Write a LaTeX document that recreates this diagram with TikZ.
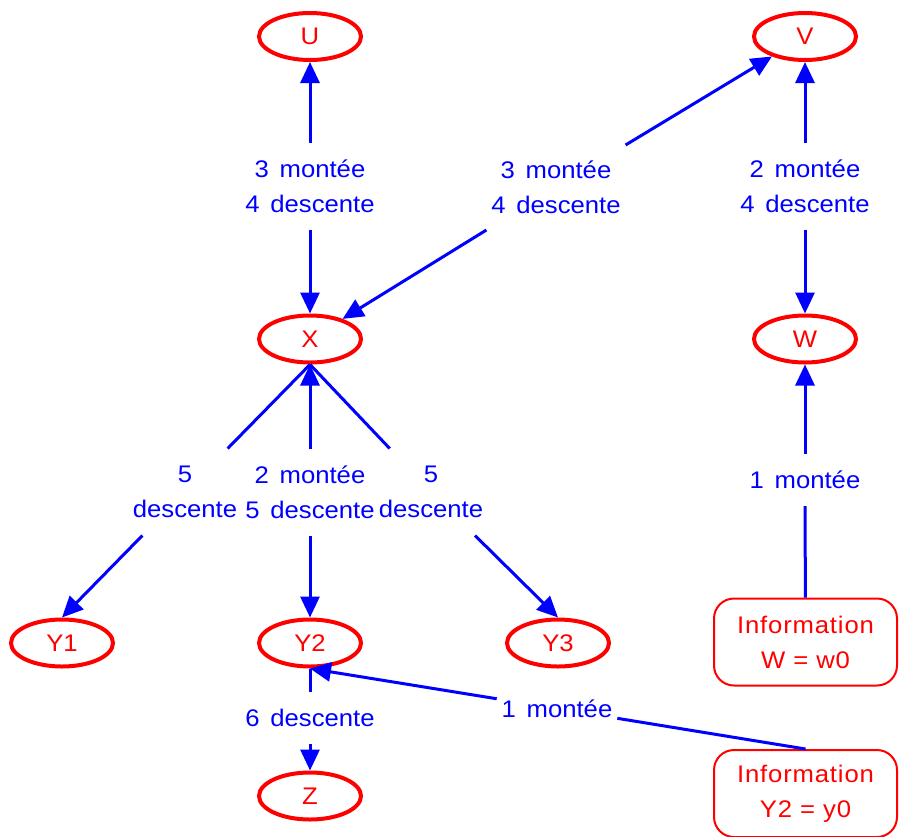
\documentclass[tikz,border=0pt]{standalone}
\usepackage{fontspec}
\setmainfont{Liberation Sans}[FakeStretch=1.07]
\newfontfamily\msgfont{Liberation Sans}[FakeStretch=1.07, WordSpace=1.5]
\newfontfamily\infofont{Liberation Sans}[FakeStretch=1.07, LetterSpace=3.5]
\usetikzlibrary{arrows.meta,shapes.geometric}
\definecolor{nodered}{RGB}{255,0,0}
\definecolor{edgeblue}{RGB}{0,0,255}
\begin{document}
\begin{tikzpicture}[x=1pt,y=-1pt,
  every node/.style={font=\fontsize{24}{35}\selectfont},
  var/.style={ellipse, draw=nodered, text=nodered, line width=4pt,
    minimum width=102pt, minimum height=47pt, inner sep=0pt},
  info/.style={rectangle, rounded corners=20pt, draw=nodered, text=nodered,
    line width=2pt, minimum width=183pt, minimum height=87pt, align=center, inner sep=0pt,
    font=\infofont\fontsize{24}{35}\selectfont},
  msg/.style={rectangle, text=edgeblue, align=center, inner xsep=5pt, inner ysep=0pt,
    outer sep=0pt, minimum height=87pt,
    font=\msgfont\fontsize{24}{35}\selectfont},
  msgone/.style={msg, minimum height=52pt},
  link/.style={draw=edgeblue, line width=3pt},
  tip/.style={link, -{Triangle[length=21pt,width=19pt]}}
]
\useasboundingbox (0,0) rectangle (899,836);

% variables
\node[var] (U)  at (310,36.5) {U};
\node[var] (V)  at (805,36.5) {V};
\node[var] (X)  at (310,339)  {X};
\node[var] (W)  at (805,339)  {W};
\node[var] (Y1) at (62,643)   {Y1};
\node[var] (Y2) at (310,643)  {Y2};
\node[var] (Y3) at (558,643)  {Y3};
\node[var] (Z)  at (310,796)  {Z};

% evidence
\node[info] (iW) at (805.5,642)   {Information\\W = w0};
\node[info] (iY) at (805.5,793.5) {Information\\Y2 = y0};

% messages
\node[msg] (lUX)  at (310,186)   {3 montée\\4 descente};
\node[msg] (lXV)  at (556,187)   {3 montée\\4 descente};
\node[msg] (lVW)  at (805,186)   {2 montée\\4 descente};
\node[msg] (lXY1) at (185,492)   {5\\descente};
\node[msg] (lXY2) at (310,492)   {2 montée\\5 descente};
\node[msg] (lXY3) at (431,492)   {5\\descente};
\node[msgone] (lYZ) at (310,718) {6 descente};
\node[msgone] (lW)  at (805,480) {1 montée};
\node[msgone] (lY2) at (557,708.5) {1 montée};

% edges
\draw[tip] (lUX) -- (U);
\draw[tip] (lUX) -- (X);
\draw[tip] (lXV) -- (X);
\draw[tip] (lXV) -- (V);
\draw[tip] (lVW) -- (V);
\draw[tip] (lVW) -- (W);
\draw[link] (X.south) -- (lXY1);
\draw[tip] (lXY1) -- (Y1.north);
\draw[link] (X.south) -- (lXY3);
\draw[tip] (lXY3) -- (Y3.north);
\draw[tip] (lXY2) -- (X.south);
\draw[tip] (lXY2) -- (Y2.north);
\draw[link] (Y2) -- (lYZ);
\draw[tip] (lYZ) -- (Z);
\draw[link] (iW) -- (lW);
\draw[tip] (lW) -- (W);
\draw[link] (iY.north) -- (lY2);
\draw[tip] (lY2) -- (Y2.south);
\end{tikzpicture}
\end{document}
